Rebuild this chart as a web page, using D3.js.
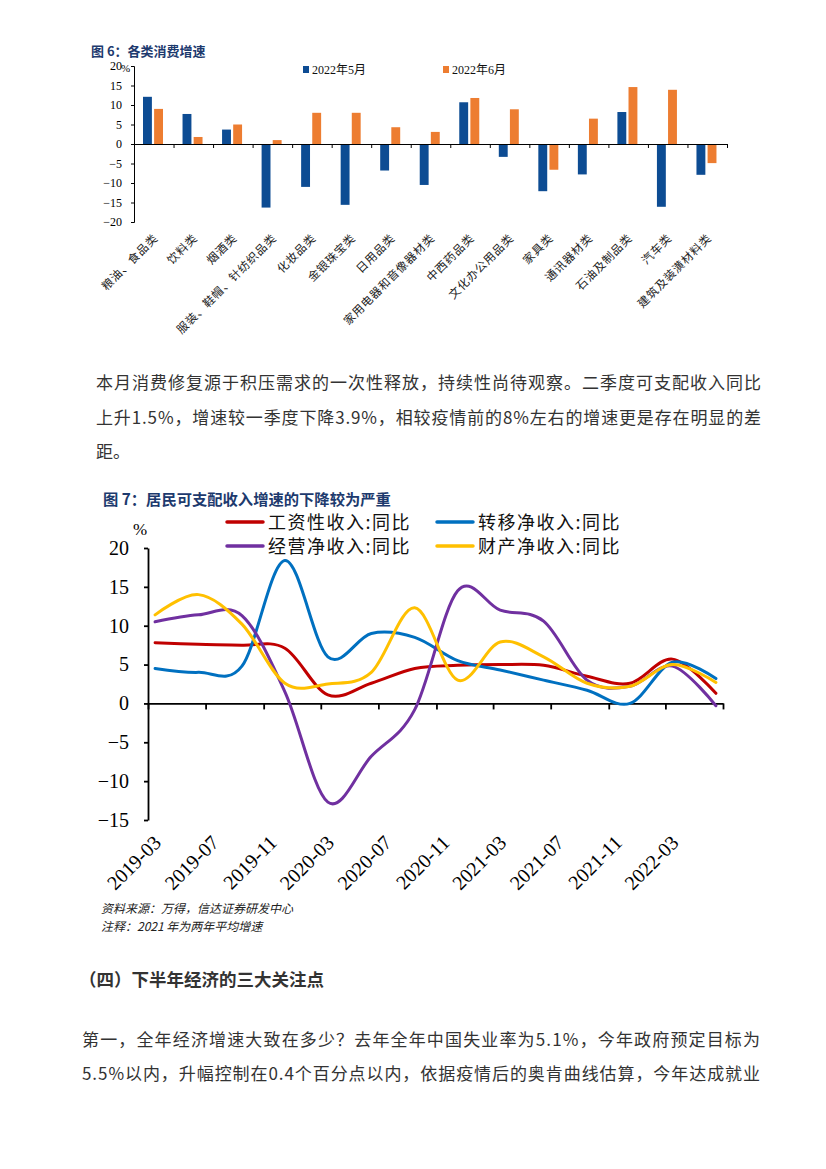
<!DOCTYPE html>
<html><head><meta charset="utf-8">
<script src="https://cdn.jsdelivr.net/npm/d3@7"></script>
<style>
html,body{margin:0;padding:0;background:#fff;}
svg{display:block;}
</style></head>
<body>
<svg id="page" width="826" height="1169"></svg>
<script>
// ---------- Chart 1 data ----------
const cats1 = ["粮油、食品类","饮料类","烟酒类","服装、鞋帽、针纺织品类","化妆品类","金银珠宝类","日用品类","家用电器和音像器材类","中西药品类","文化办公用品类","家具类","通讯器材类","石油及制品类","汽车类","建筑及装潢材料类"];
const series1Names = ["2022年5月","2022年6月"];
const may2022 = [12.1, 7.7, 3.7, -16.3, -11.0, -15.6, -6.8, -10.5, 10.7, -3.3, -12.1, -7.8, 8.2, -16.1, -7.9];
const jun2022 = [9.0, 1.8, 5.0, 1.0, 8.0, 8.0, 4.3, 3.1, 11.8, 8.9, -6.6, 6.5, 14.6, 13.9, -4.9];
const yTicks1 = [-20,-15,-10,-5,0,5,10,15,20];

// ---------- Chart 2 data ----------
const dates2 = ["2019-03","2019-06","2019-09","2019-12","2020-03","2020-06","2020-09","2020-12","2021-03","2021-06","2021-09","2021-12","2022-03","2022-06"];
const series2Names = ["工资性收入:同比","转移净收入:同比","经营净收入:同比","财产净收入:同比"];
const wage     = [7.8, 7.6, 7.5, 7.1, 1.1, 2.6, 4.5, 4.9, 5.0, 4.9, 3.5, 2.6, 5.7, 1.3];
const transfer = [4.5, 4.0, 4.8, 18.4, 6.0, 9.0, 8.5, 5.5, 4.3, 3.0, 1.7, 0.0, 5.3, 3.2];
const business = [10.5, 11.4, 11.3, 1.5, -12.7, -6.8, -0.8, 14.5, 12.0, 10.6, 3.0, 2.2, 4.8, -0.3];
const property = [11.4, 14.0, 10.2, 2.6, 2.5, 4.0, 12.3, 3.0, 7.9, 6.0, 2.6, 2.2, 5.0, 2.7];
const xTickLabels2 = ["2019-03","2019-07","2019-11","2020-03","2020-07","2020-11","2021-03","2021-07","2021-11","2022-03"];
const yTicks2 = [-15,-10,-5,0,5,10,15,20];

// ---------- Text ----------
const para1 = ["本月消费修复源于积压需求的一次性释放，持续性尚待观察。二季度可支配收入同比",
               "上升1.5%，增速较一季度下降3.9%，相较疫情前的8%左右的增速更是存在明显的差",
               "距。"];
const heading = "（四）下半年经济的三大关注点";
const para2 = ["第一，全年经济增速大致在多少？去年全年中国失业率为5.1%，今年政府预定目标为",
               "5.5%以内，升幅控制在0.4个百分点以内，依据疫情后的奥肯曲线估算，今年达成就业"];

const svg = d3.select("#page");
const CJK = "'Noto Sans CJK SC', sans-serif";
const SERIF = "'Liberation Serif', 'Noto Sans CJK SC', serif";
const titleColor = "#1d3a6e";
const textColor = "#333333";

// ================= Chart 1 =================
const g1 = svg.append("g");
g1.append("text").attr("x", 91).attr("y", 56).attr("font-family", CJK).attr("font-weight", "bold")
  .attr("font-size", 13).attr("fill", titleColor).text("图 6：各类消费增速");

const x1 = d3.scaleBand().domain(cats1).range([134, 727]).padding(0);
const xs1 = d3.scaleBand().domain(series1Names).range([9, 29]).paddingInner(0.2);
const y1 = d3.scaleLinear().domain([-20, 20]).range([222, 66]);
const col1 = ["#0d4c93", "#ed7d31"];

// bars
[may2022, jun2022].forEach((vals, si) => {
  g1.append("g").selectAll("rect").data(vals).join("rect")
    .attr("x", (d, i) => x1(cats1[i]) + xs1(series1Names[si]))
    .attr("width", xs1.bandwidth())
    .attr("y", d => y1(Math.max(0, d)))
    .attr("height", d => Math.abs(y1(d) - y1(0)))
    .attr("fill", col1[si]);
});

// y axis
const ya1 = g1.append("g").attr("transform", "translate(134,0)")
  .call(d3.axisLeft(y1).tickValues(yTicks1).tickSize(3).tickPadding(9).tickFormat(d3.format("d")));
ya1.selectAll("text").attr("font-family", SERIF).attr("font-size", 12).attr("fill", "#000");
ya1.selectAll("line,path").attr("stroke", "#000");
g1.append("text").attr("x", 121).attr("y", 72).attr("font-family", SERIF).attr("font-size", 11).text("%");

// x axis at zero with ticks at category boundaries
const xb1 = d3.scaleLinear().domain([0, cats1.length]).range([134, 727]);
const xa1 = g1.append("g").attr("transform", `translate(0,${y1(0)})`)
  .call(d3.axisBottom(xb1).tickValues(d3.range(1, cats1.length + 1)).tickSize(4).tickSizeOuter(0).tickFormat(""));
xa1.selectAll("line,path").attr("stroke", "#000");

// category labels
g1.append("g").selectAll("text").data(cats1).join("text")
  .attr("transform", d => `translate(${x1(d) + x1.bandwidth() / 2 + 2},${236}) rotate(-45)`)
  .attr("text-anchor", "end").attr("dy", "0.35em")
  .attr("font-family", CJK).attr("font-size", 11.5).attr("letter-spacing", 0.8).attr("fill", "#222")
  .text(d => d);

// legend
const leg1x = [303, 443];
series1Names.forEach((n, i) => {
  g1.append("rect").attr("x", leg1x[i]).attr("y", 66).attr("width", 6).attr("height", 7).attr("fill", col1[i]);
  g1.append("text").attr("x", leg1x[i] + 9).attr("y", 74).attr("font-family", SERIF).attr("font-size", 12)
    .attr("fill", "#111").text(n);
});

// ================= Paragraph 1 =================
const pg1 = svg.append("g").attr("font-family", CJK).attr("font-size", 17).attr("fill", textColor);
para1.forEach((t, i) => {
  const tx = pg1.append("text").attr("x", 96).attr("y", 389 + i * 34.5).text(t);
  if (i < 2) tx.attr("textLength", 665).attr("lengthAdjust", "spacing");
});

// ================= Chart 2 =================
const g2 = svg.append("g");
g2.append("text").attr("x", 103).attr("y", 505).attr("font-family", CJK).attr("font-weight", "bold")
  .attr("font-size", 15.3).attr("fill", titleColor).text("图 7：居民可支配收入增速的下降较为严重");

const parseM = d3.timeParse("%Y-%m");
const midMonth = s => { const d = parseM(s); return new Date(d.getFullYear(), d.getMonth(), 16); };
const x2 = d3.scaleTime().domain([parseM("2019-03"), parseM("2022-07")]).range([148, 723]);
const y2 = d3.scaleLinear().domain([-15, 20]).range([820, 548]);
const col2 = ["#c00000", "#0070c0", "#7030a0", "#ffc000"];
const allSeries = [wage, transfer, business, property];

// axes
const ya2 = g2.append("g").attr("transform", "translate(148,0)")
  .call(d3.axisLeft(y2).tickValues(yTicks2).tickSize(4).tickPadding(15).tickSizeOuter(0).tickFormat(d3.format("d")));
ya2.selectAll("text").attr("font-family", SERIF).attr("font-size", 20).attr("fill", "#000");
ya2.selectAll("line,path").attr("stroke", "#000").attr("stroke-width", 1.8);

const xTickDates = xTickLabels2.map(parseM).concat([parseM("2022-07")]);
const xa2 = g2.append("g").attr("transform", `translate(0,${y2(0)})`)
  .call(d3.axisBottom(x2).tickValues(xTickDates).tickSize(6).tickSizeOuter(0).tickFormat(""));
xa2.selectAll("line,path").attr("stroke", "#000").attr("stroke-width", 1.8);

const xl2 = g2.append("g").attr("transform", `translate(0,${y2(-15)})`)
  .call(d3.axisBottom(x2).tickValues(xTickLabels2.map(parseM)).tickSize(0).tickFormat(d3.timeFormat("%Y-%m")));
xl2.select(".domain").remove();
xl2.selectAll("text").attr("font-family", SERIF).attr("font-size", 20).attr("fill", "#000")
  .attr("text-anchor", "end").attr("dy", "0.35em")
  .attr("transform", "translate(9,19) rotate(-45)").attr("y", 0).attr("x", 0);

g2.append("text").attr("x", 133).attr("y", 535).attr("font-family", SERIF).attr("font-size", 17).text("%");

// lines
const line2 = d3.line().x((d, i) => x2(midMonth(dates2[i]))).y(d => y2(d)).curve(d3.curveCardinal.tension(0));
allSeries.forEach((vals, si) => {
  g2.append("path").datum(vals).attr("d", line2).attr("fill", "none")
    .attr("stroke", col2[si]).attr("stroke-width", 3).attr("stroke-linejoin", "round").attr("stroke-linecap", "round");
});

// legend
const legPos = [[227, 522], [437, 522], [227, 546], [437, 546]];
series2Names.forEach((n, i) => {
  const [lx, ly] = legPos[i];
  g2.append("line").attr("x1", lx).attr("x2", lx + 36).attr("y1", ly).attr("y2", ly)
    .attr("stroke", col2[i]).attr("stroke-width", 3.5).attr("stroke-linecap", "round");
  g2.append("text").attr("x", lx + 41).attr("y", ly + 7).attr("font-family", CJK).attr("font-size", 18)
    .attr("letter-spacing", 1.5).attr("fill", "#111").text(n);
});

// footnotes
g2.append("text").attr("x", 101).attr("y", 913).attr("font-family", CJK).attr("font-style", "italic")
  .attr("font-size", 12).attr("fill", "#222").text("资料来源：万得，信达证券研发中心");
g2.append("text").attr("x", 101).attr("y", 931).attr("font-family", CJK).attr("font-style", "italic")
  .attr("font-size", 12).attr("fill", "#222").text("注释：2021 年为两年平均增速");

// ================= Heading & Paragraph 2 =================
svg.append("text").attr("x", 79).attr("y", 986).attr("font-family", CJK).attr("font-weight", "bold")
  .attr("font-size", 17.5).attr("fill", textColor).text(heading);
const pg2 = svg.append("g").attr("font-family", CJK).attr("font-size", 17).attr("fill", textColor);
para2.forEach((t, i) => {
  pg2.append("text").attr("x", 82).attr("y", 1046 + i * 33.5).text(t)
    .attr("textLength", 678).attr("lengthAdjust", "spacing");
});
</script>
</body></html>
